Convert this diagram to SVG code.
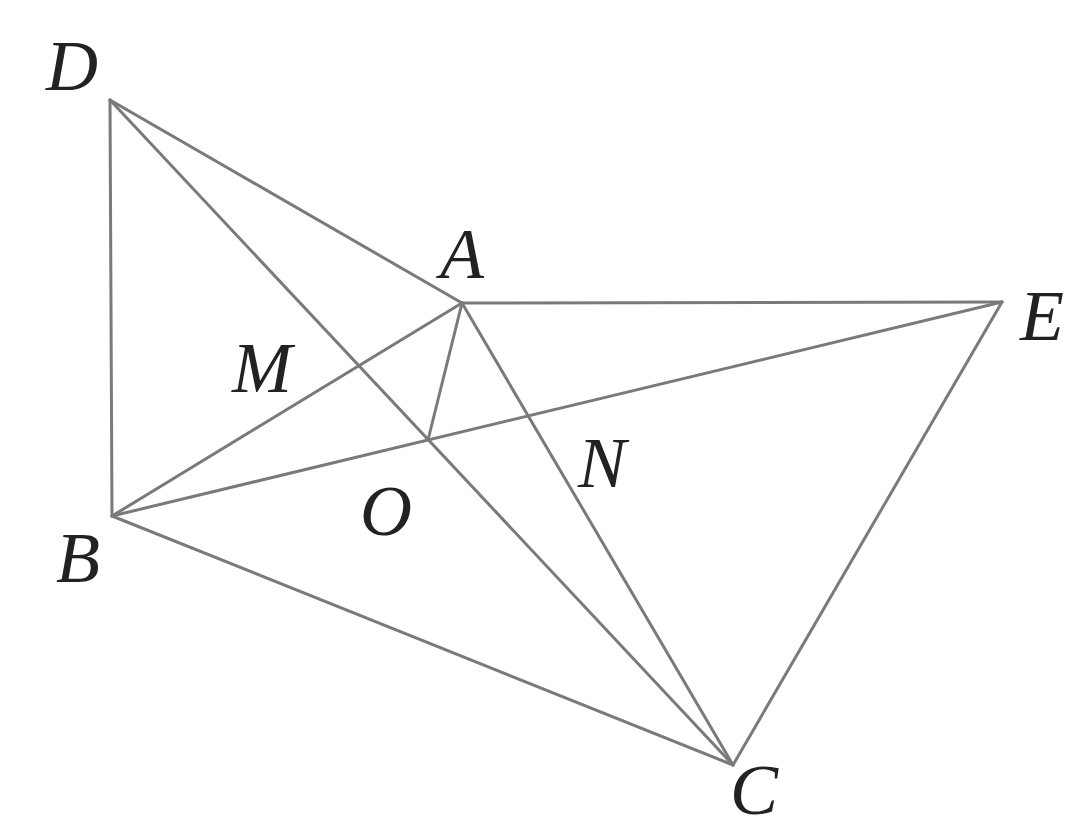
<svg xmlns="http://www.w3.org/2000/svg" width="1065" height="833" viewBox="0 0 1065 833">
<style>
.ln{stroke:#7a7a7a;stroke-width:3;fill:none;stroke-linecap:round}
.lb{font-family:"Liberation Serif","Times New Roman",serif;font-style:italic;font-size:72px;fill:#222}
</style>
<rect width="1065" height="833" fill="#fff"/>
<g id="connectors">
<line class="ln" x1="110" y1="100" x2="112" y2="516"/>
<line class="ln" x1="110" y1="100" x2="462" y2="303"/>
<line class="ln" x1="110" y1="100" x2="733" y2="765"/>
<line class="ln" x1="462" y1="303" x2="1002" y2="302"/>
<line class="ln" x1="462" y1="303" x2="112" y2="516"/>
<line class="ln" x1="462" y1="303" x2="428" y2="440"/>
<line class="ln" x1="462" y1="303" x2="733" y2="765"/>
<line class="ln" x1="112" y1="516" x2="1002" y2="302"/>
<line class="ln" x1="112" y1="516" x2="733" y2="765"/>
<line class="ln" x1="1002" y1="302" x2="733" y2="765"/>
</g>
<g id="D"><text class="lb" x="46" y="90">D</text></g>
<g id="A"><text class="lb" x="440" y="278">A</text></g>
<g id="E"><text class="lb" x="1020" y="340">E</text></g>
<g id="M"><text class="lb" x="232" y="392">M</text></g>
<g id="N"><text class="lb" x="578" y="487">N</text></g>
<g id="O"><text class="lb" x="360" y="535">O</text></g>
<g id="B"><text class="lb" x="56" y="582">B</text></g>
<g id="C"><text class="lb" x="730" y="814">C</text></g>
</svg>
